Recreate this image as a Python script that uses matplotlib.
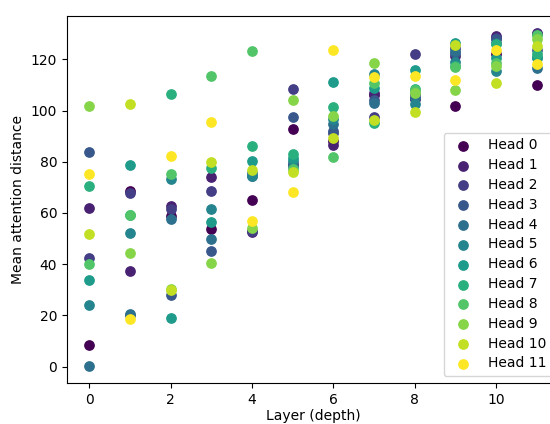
import numpy as np
import matplotlib
matplotlib.use("Agg")
import matplotlib.pyplot as plt

# mean attention distance per head, one value per layer 0..11
layers = list(range(12))
head_0 = [8.6, 68.5, 58.8, 53.8, 64.9, 92.7, 88.0, 106.0, 105.0, 101.8, 122.0, 109.9]
head_1 = [61.8, 37.5, 62.9, 74.0, 52.5, 79.0, 86.7, 107.0, 104.4, 121.1, 129.1, 130.4]
head_2 = [42.5, 67.8, 61.4, 68.5, 53.0, 108.4, 91.1, 97.6, 122.0, 124.5, 128.3, 130.0]
head_3 = [83.9, 20.0, 27.8, 45.1, 74.5, 97.6, 92.0, 104.0, 106.3, 122.5, 127.8, 123.5]
head_4 = [0.1, 20.7, 57.5, 49.9, 75.5, 78.3, 94.6, 103.1, 104.8, 123.3, 126.5, 116.7]
head_5 = [24.2, 52.0, 73.1, 61.6, 74.4, 80.3, 96.6, 114.2, 102.4, 119.0, 115.5, 120.7]
head_6 = [33.9, 78.8, 18.8, 56.4, 80.4, 81.5, 111.0, 108.9, 115.8, 126.5, 120.7, 121.0]
head_7 = [70.4, 59.0, 106.3, 77.7, 86.0, 82.9, 101.4, 95.0, 108.3, 117.5, 125.9, 122.0]
head_8 = [39.9, 59.3, 75.3, 113.5, 123.3, 77.0, 82.0, 110.6, 108.0, 116.8, 118.5, 129.4]
head_9 = [101.8, 44.4, 30.4, 40.3, 54.2, 104.1, 97.9, 118.5, 107.0, 107.9, 117.4, 128.0]
head_10 = [51.9, 102.6, 29.8, 79.9, 76.6, 75.9, 89.3, 96.3, 99.6, 125.6, 110.9, 125.2]
head_11 = [75.2, 18.4, 82.4, 95.7, 56.8, 68.1, 123.5, 112.9, 113.3, 111.8, 123.5, 118.3]

heads = [head_0, head_1, head_2, head_3, head_4, head_5,
         head_6, head_7, head_8, head_9, head_10, head_11]
head_names = ["Head %d" % i for i in range(12)]

fig = plt.figure(figsize=(5.5, 4.24), dpi=100)
# the axes run past the right edge, like in the cropped original
ax = fig.add_axes([0.1218, 0.0967, 0.8945, 0.8656])

colors = plt.cm.viridis(np.linspace(0, 1, len(heads)))
for i, h in enumerate(heads):
    ax.scatter(layers, h, s=45, color=colors[i], label=head_names[i])

ax.set_xticks([0, 2, 4, 6, 8, 10])
ax.set_yticks([0, 20, 40, 60, 80, 100, 120])
ax.set_xlabel("Layer (depth)", labelpad=2)
ax.set_ylabel("Mean attention distance")
ax.legend(loc="lower right", labelspacing=0.42)

fig.savefig("out.png", dpi=100)
